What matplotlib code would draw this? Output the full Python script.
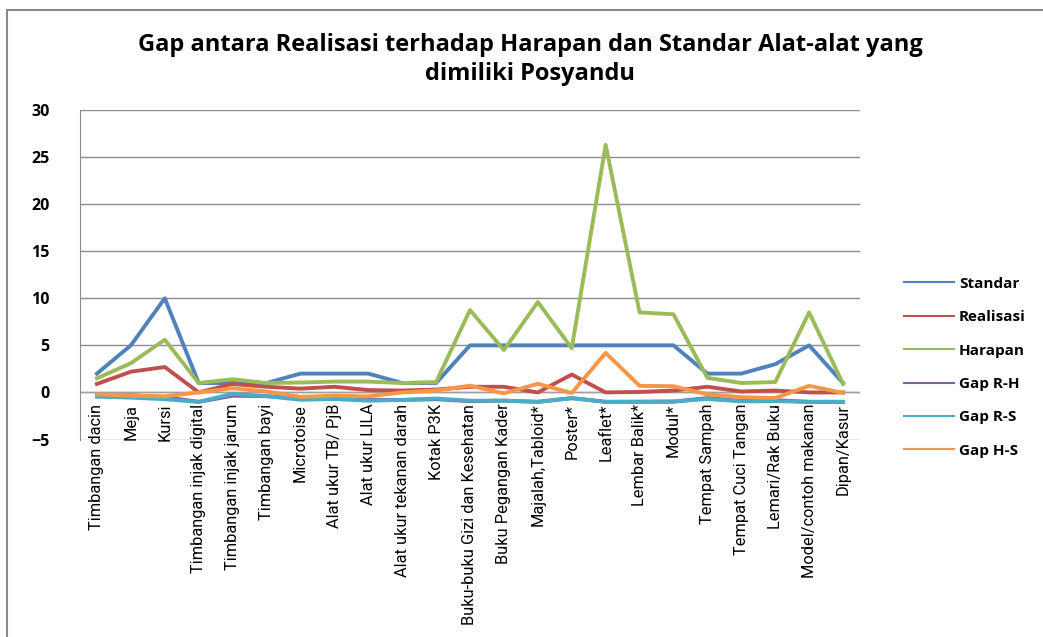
import matplotlib
matplotlib.use('Agg')
import matplotlib.pyplot as plt
from matplotlib.patches import Rectangle
from matplotlib.lines import Line2D

# ── Data ───────────────────────────────────────────────────────
categories = [
    'Timbangan dacin', 'Meja', 'Kursi', 'Timbangan injak digital',
    'Timbangan injak jarum', 'Timbangan bayi', 'Microtoise', 'Alat ukur TB/ PjB',
    'Alat ukur LILA', 'Alat ukur tekanan darah', 'Kotak P3K',
    'Buku-buku Gizi dan Kesehatan', 'Buku Pegangan Kader', 'Majalah,Tabloid*',
    'Poster*', 'Leaflet*', 'Lembar Balik*', 'Modul*', 'Tempat Sampah',
    'Tempat Cuci Tangan', 'Lemari/Rak Buku', 'Model/contoh makanan', 'Dipan/Kasur',
]

standar   = [2, 5, 10, 1, 1, 1, 2, 2, 2, 1, 1, 5, 5, 5, 5, 5, 5, 5, 2, 2, 3, 5, 1]
realisasi = [0.9, 2.2, 2.7, 0.0, 0.9, 0.6, 0.4, 0.6, 0.25, 0.2, 0.3, 0.6, 0.6,
             0.0, 1.9, 0.0, 0.05, 0.2, 0.6, 0.1, 0.2, 0.0, 0.0]
harapan   = [1.5, 3.1, 5.6, 1.0, 1.4, 1.0, 1.05, 1.15, 1.15, 1.0, 1.1, 8.75, 4.5,
             9.6, 4.7, 26.3, 8.5, 8.3, 1.55, 1.0, 1.1, 8.5, 0.9]
gap_rh    = [-0.4, -0.3, -0.5, -1.0, -0.35, -0.4, -0.6, -0.5, -0.78, -0.8, -0.72,
             -0.93, -0.87, -1.0, -0.6, -1.0, -0.99, -0.98, -0.6, -0.9, -0.82, -1.0, -1.0]
gap_rs    = [-0.45, -0.55, -0.72, -1.0, -0.15, -0.4, -0.78, -0.7, -0.88, -0.8, -0.65,
             -0.88, -0.88, -1.0, -0.62, -1.0, -0.99, -0.96, -0.7, -0.95, -0.93, -1.0, -1.0]
gap_hs    = [-0.2, -0.35, -0.42, 0.0, 0.45, 0.1, -0.47, -0.35, -0.42, 0.0, 0.2,
             0.72, -0.1, 0.92, -0.06, 4.2, 0.7, 0.66, -0.2, -0.5, -0.6, 0.7, -0.05]

series = [
    ('Standar',   standar,   '#4F81BD'),
    ('Realisasi', realisasi, '#C0504D'),
    ('Harapan',   harapan,   '#9BBB59'),
    ('Gap R-H',   gap_rh,    '#8064A2'),
    ('Gap R-S',   gap_rs,    '#4BACC6'),
    ('Gap H-S',   gap_hs,    '#F79646'),
]

W, H = 1043, 637
fig = plt.figure(figsize=(W / 100, H / 100), dpi=100)
fig.patch.set_facecolor('white')

# outer chart frame (cut off at right/bottom like the screenshot)
fig.patches.append(Rectangle((7 / W, -0.1), 1.2, 1 - 10 / H + 0.1,
                             transform=fig.transFigure, fill=False,
                             edgecolor='#8a8a8a', linewidth=1.5))

ax = fig.add_axes([80 / W, 1 - 439.5 / H, 780 / W, 329.5 / H])
x = list(range(len(categories)))

for name, vals, color in series:
    ax.plot(x, vals, color=color, linewidth=2.8, label=name,
            solid_joinstyle='round', zorder=3)

ax.set_xlim(-0.5, len(categories) - 0.5)
ax.set_ylim(-5, 30)
ax.set_yticks(range(-5, 31, 5))
ax.yaxis.grid(True, color='#8c8c8c', linewidth=1)
ax.set_axisbelow(True)
ax.axhline(0, color='#a0a0a0', linewidth=1, zorder=1)

for s in ['top', 'right', 'bottom']:
    ax.spines[s].set_visible(False)
ax.spines['left'].set_color('#8c8c8c')

ax.tick_params(axis='y', length=0, pad=22, labelsize=11.5)
for lab in ax.get_yticklabels():
    lab.set_fontweight('bold')
    lab.set_family('Open Sans')
ax.set_xticks([])

# category labels sit under the 0 line (axis crosses at 0)
for i, cat in enumerate(categories):
    ax.text(i, -1.2, cat, rotation=90, ha='center', va='top',
            fontsize=11.75, family='Roboto')

fig.text(530 / W, 1 - 33 / H,
         'Gap antara Realisasi terhadap Harapan dan Standar Alat-alat yang\ndimiliki Posyandu',
         ha='center', va='top', fontsize=17, fontweight='bold',
         family='Open Sans', linespacing=1.3)

handles = [Line2D([0], [0], color=c, linewidth=1.5) for _, _, c in series]
fig.legend(handles, [n for n, _, _ in series], loc='upper left',
           bbox_to_anchor=(890 / W, 1 - 263 / H), frameon=False,
           handlelength=3.3, handletextpad=0.3, labelspacing=1.27,
           prop={'family': 'Open Sans', 'weight': 'bold', 'size': 11})

fig.savefig('out.png', dpi=100)
